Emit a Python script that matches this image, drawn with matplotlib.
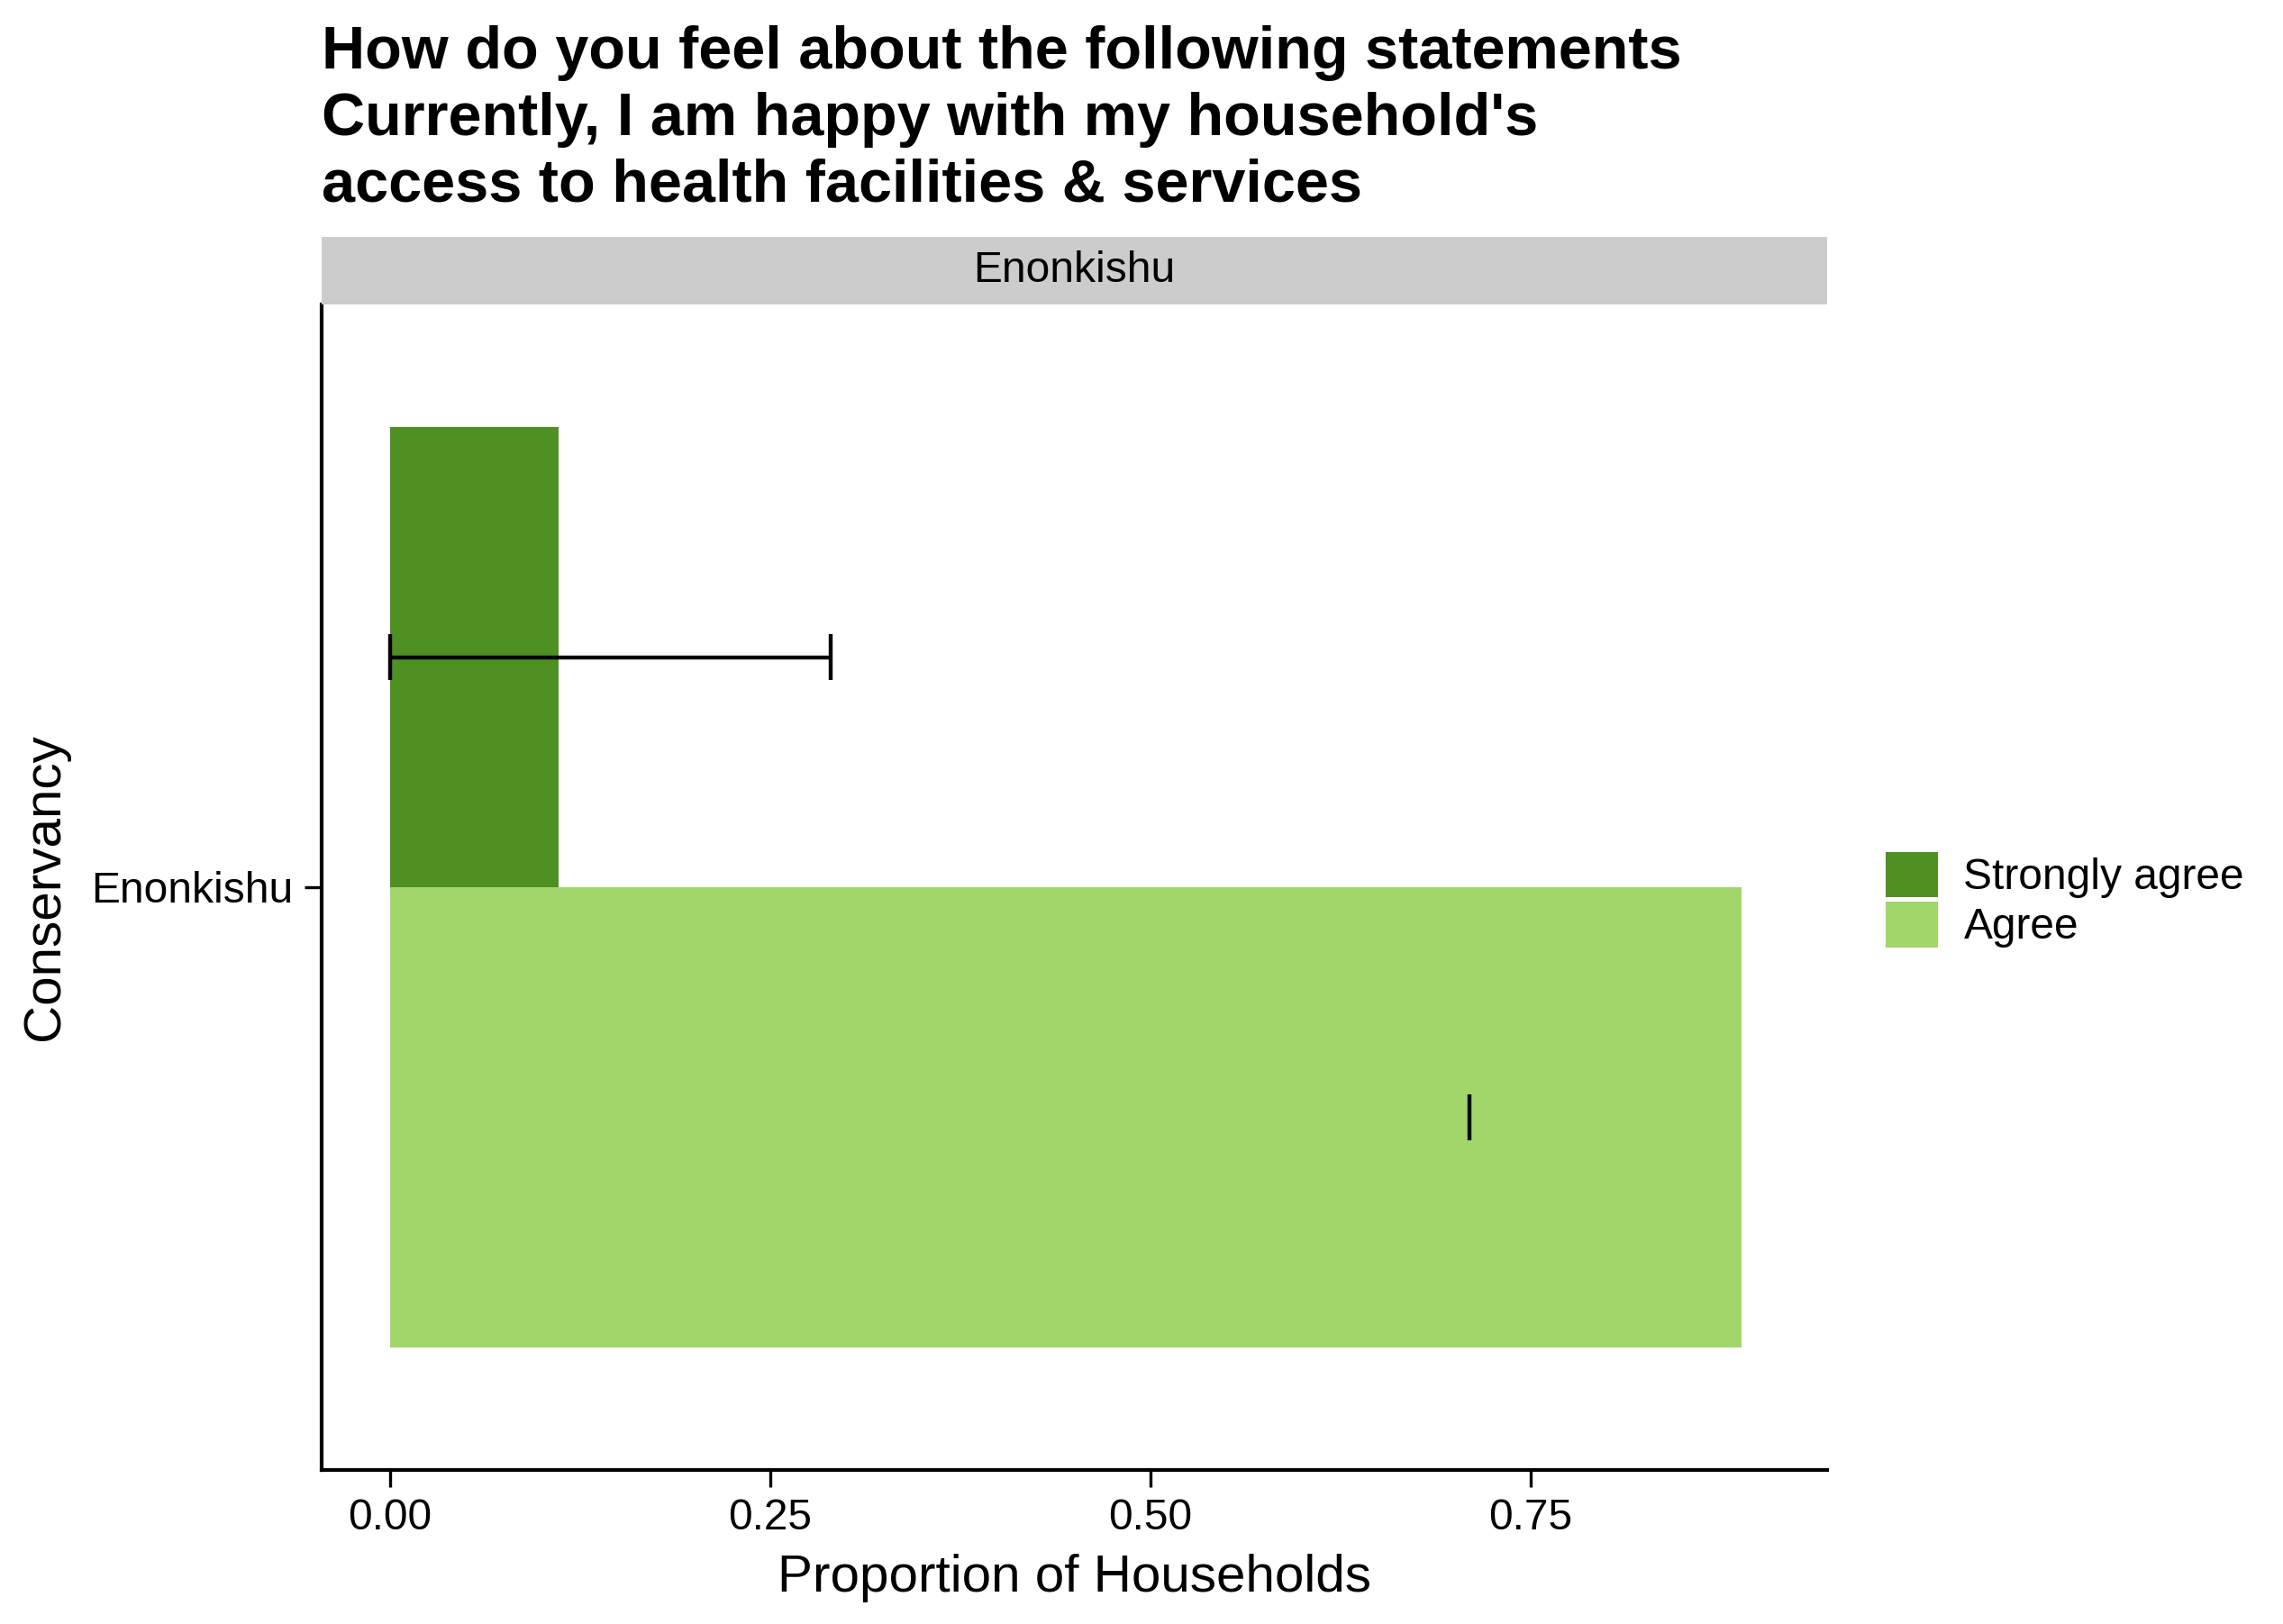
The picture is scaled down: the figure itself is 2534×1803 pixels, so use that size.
import numpy as np
import matplotlib

matplotlib.use("Agg")
import matplotlib.pyplot as plt  # noqa: E402
from matplotlib.patches import Patch, Rectangle  # noqa: E402

plt.rcParams["font.family"] = ["Liberation Sans", "DejaVu Sans"]

# data
CONSERVANCY = "Enonkishu"
RESPONSES = ["Strongly agree", "Agree"]
PROPORTIONS = [0.111, 0.889]
ERR_LO = [0.0, 0.71]
ERR_HI = [0.29, np.nan]  # upper end out of range for "Agree"
COLORS = ["#4E9021", "#A1D66B"]

TITLE = ("How do you feel about the following statements\n"
         "Currently, I am happy with my household's\n"
         "access to health facilities & services")

W, H = 2534, 1803
fig = plt.figure(figsize=(W / 300, H / 300), dpi=300)

left, right = 357 / W, 2028 / W
bottom, top = 1 - 1632 / H, 1 - 338 / H
ax = fig.add_axes([left, bottom, right - left, top - bottom])

bar_h = 0.45
offsets = [bar_h / 2, -bar_h / 2]
for resp, val, off, col in zip(RESPONSES, PROPORTIONS, offsets, COLORS):
    ax.barh(off, val, height=bar_h, color=col, label=resp, zorder=1)

cap = 0.0225
lw = 1.05
for lo, hi, off in zip(ERR_LO, ERR_HI, offsets):
    if np.isfinite(lo) and np.isfinite(hi):
        ax.hlines(off, lo, hi, color="black", lw=lw, zorder=3)
    for v in (lo, hi):
        if np.isfinite(v):
            ax.vlines(v, off - cap, off + cap, color="black", lw=lw, zorder=3)

ax.set_xlim(-0.045, 0.945)
ax.set_ylim(-0.57, 0.57)
ax.set_xticks([0, 0.25, 0.5, 0.75])
ax.set_xticklabels(["0.00", "0.25", "0.50", "0.75"])
ax.set_yticks([0])
ax.set_yticklabels([CONSERVANCY])
ax.tick_params(axis="both", labelsize=11.5, length=4.5, width=0.8,
               colors="black", pad=3)
for s in ("top", "right"):
    ax.spines[s].set_visible(False)
for s in ("left", "bottom"):
    ax.spines[s].set_linewidth(1.0)

ax.set_xlabel("Proportion of Households", fontsize=14, labelpad=4)
ax.set_ylabel("Conservancy", fontsize=14, labelpad=6)

# facet strip
strip_top = 1 - 263 / H
strip = Rectangle((left, top), right - left, strip_top - top,
                  transform=fig.transFigure, facecolor="#CCCCCC",
                  edgecolor="none")
fig.add_artist(strip)
fig.text((left + right) / 2, (top + strip_top) / 2, CONSERVANCY,
         ha="center", va="center", fontsize=11.5)

fig.text(left, 1 - 28 / H, TITLE, ha="left", va="top", fontsize=16,
         fontweight="bold", linespacing=1.25)

handles = [Patch(facecolor=c, edgecolor="none", label=r)
           for r, c in zip(RESPONSES, COLORS)]
fig.legend(handles=handles, loc="center left",
           bbox_to_anchor=(2074 / W, 1 - 999 / H), frameon=False,
           fontsize=11.5, handlelength=1.2, handleheight=1.25,
           handletextpad=0.6, labelspacing=0.08, borderaxespad=0)

fig.savefig("out.png", dpi=300, facecolor="white")
